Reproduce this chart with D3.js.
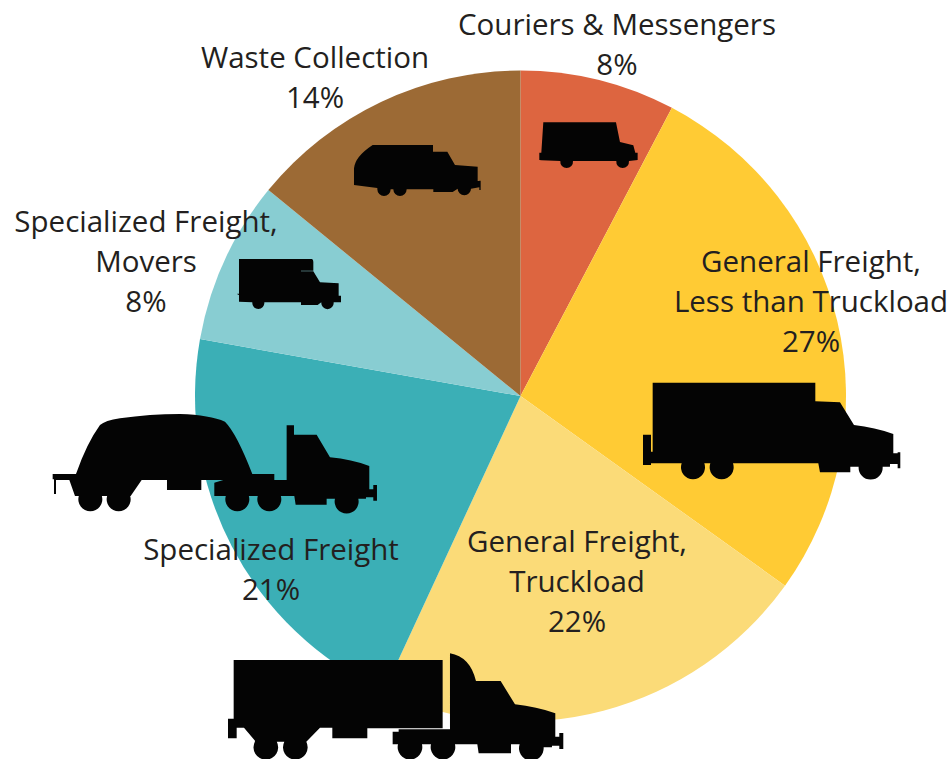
<!DOCTYPE html>
<html lang="en">
	<head>
		<meta charset="utf-8">
		<title>Trucking segments pie</title>
		<script src="https://cdn.jsdelivr.net/npm/d3@7"></script>
		<style>
			html, body { margin: 0; padding: 0; background: #fff; }
			svg { display: block; }
			text { font-family: "Open Sans", "Noto Sans", sans-serif; font-size: 29.5px; fill: #231f20; text-anchor: middle; }
		</style>
	</head>
	<body>
		<script>
			var w = 950;
			var h = 759;

			// Data, clockwise from 12 o'clock
			var categories = ["Couriers & Messengers", "General Freight, Less than Truckload", "General Freight, Truckload", "Specialized Freight", "Specialized Freight, Movers", "Waste Collection"];
			var shares = [7.7, 27.2, 22, 20.9, 8.1, 14.1];   // measured off the slice edges
			var shareLabels = ["8%", "27%", "22%", "21%", "8%", "14%"];
			var labelLines = [
				["Couriers & Messengers"],
				["General Freight,", "Less than Truckload"],
				["General Freight,", "Truckload"],
				["Specialized Freight"],
				["Specialized Freight,", "Movers"],
				["Waste Collection"]
			];
			var sliceColors = ["#dd6540", "#ffcb34", "#fbdb78", "#3bafb6", "#88cdd2", "#9c6a35"];

			// Where each label block sits: centre x, first baseline
			var labelAnchors = [[617, 35], [811, 272], [577, 552], [271, 560], [146, 232], [315, 68]];
			var lineStep = 40;

			var svg = d3.select("body").append("svg")
				.attr("width", w)
				.attr("height", h);

			// Pie
			var pie = d3.pie().sort(null);
			var arc = d3.arc().innerRadius(0).outerRadius(325.5);

			svg.append("g")
				.attr("transform", "translate(520.5,396)")
				.selectAll("path")
				.data(pie(shares))
				.enter()
				.append("path")
				.attr("d", arc)
				.attr("fill", function(d, i) { return sliceColors[i]; });

			// Truck silhouettes, traced at 3x, so each gets scale(1/3)
			var trucks = [
				{ x: 340, y: 110, d: "M610,37H828L840,96L880,106L886,128H893V150L867,153A19.1,19.1 0 1 1 829,153H699A19.1,19.1 0 1 1 661,153L605,151L598,150V128H604Z" },
				{ x: 630, y: 370, d: "M68,38H556V94L630,97L672,165Q735,172 790,192V250H803V247H811V295H803V282H780V290H758A36.1,36.1 0 1 1 686,290H661V307H570L565,280H309A36,36 0 1 1 241,280H223A36,36 0 1 1 155,280H63V285H39V194H63V245H68Z" },
				{ x: 220, y: 640, d: "M41,60H668V265H442V295H337V263H300L259,305A37,37 0 1 1 193,305H170.4A37,37 0 1 1 104.6,305L105,302L72,263H50V295H24V236H41Z M690,40Q750,50 768,123H842L885,193Q950,200 1006,220V290H1018V279H1030V327H1018V317H996V322H971A37,37 0 1 1 899,313H873V340H776L772,313H705A37,37 0 1 1 633,313H606A37,37 0 1 1 534,313H518V275H536V268H690Z" },
				{ x: 40, y: 400, d: "M38,222H108Q140,130 180,75Q195,62 240,55Q330,42 420,42Q510,45 555,65Q590,100 637,222H703V240H740V76H762V104H830L870,172Q935,178 988,198V268H1000V255H1011V302H1000V292H978V296H955A36,36 0 1 1 885,296H860V314H767L763,288H722.6A36,36 0 1 1 653.4,288H626.6A36,36 0 1 1 557.4,288H523V248L550,240H484V270H381V240H305L272,288H270.6A36,36 0 1 1 201.4,288H185.6A36,36 0 1 1 116.4,288H105L88,240H48V282H42V238H38Z" },
				{ x: 225, y: 250, d: "M42,27H260Q265,28 265,35V62H228V64H265L285,97L341,100V137H348V157H326A18.6,18.6 0 1 1 289,157L278,165H228V157H118A18.1,18.1 0 1 1 82,157L42,155V135L37,133V131H42Z" },
				{ x: 340, y: 110, d: "M42,175Q45,140 98,105H279V125H322L345,165L413,170V213H418V212H422V240H418V232L393,236A20,20 0 1 1 353,236L338,246H280V238H200A20,20 0 1 1 160,238H152A20,20 0 1 1 112,238V234L42,225Z" }
			];

			svg.append("g")
				.selectAll("path")
				.data(trucks)
				.enter()
				.append("path")
				.attr("transform", function(d) { return "translate(" + d.x + "," + d.y + ") scale(0.3333)"; })
				.attr("d", function(d) { return d.d; })
				.attr("fill", "#040404");

			// Labels: name lines, then the share on its own line
			var labels = svg.append("g")
				.selectAll("text")
				.data(categories)
				.enter()
				.append("text")
				.attr("aria-label", function(d) { return d; });

			labels.each(function(d, i) {
				var lines = labelLines[i].concat(shareLabels[i]);
				d3.select(this).selectAll("tspan")
					.data(lines)
					.enter()
					.append("tspan")
					.attr("x", labelAnchors[i][0])
					.attr("y", function(l, j) { return labelAnchors[i][1] + j * lineStep; })
					.text(function(l) { return l; });
			});
		</script>
	</body>
</html>
